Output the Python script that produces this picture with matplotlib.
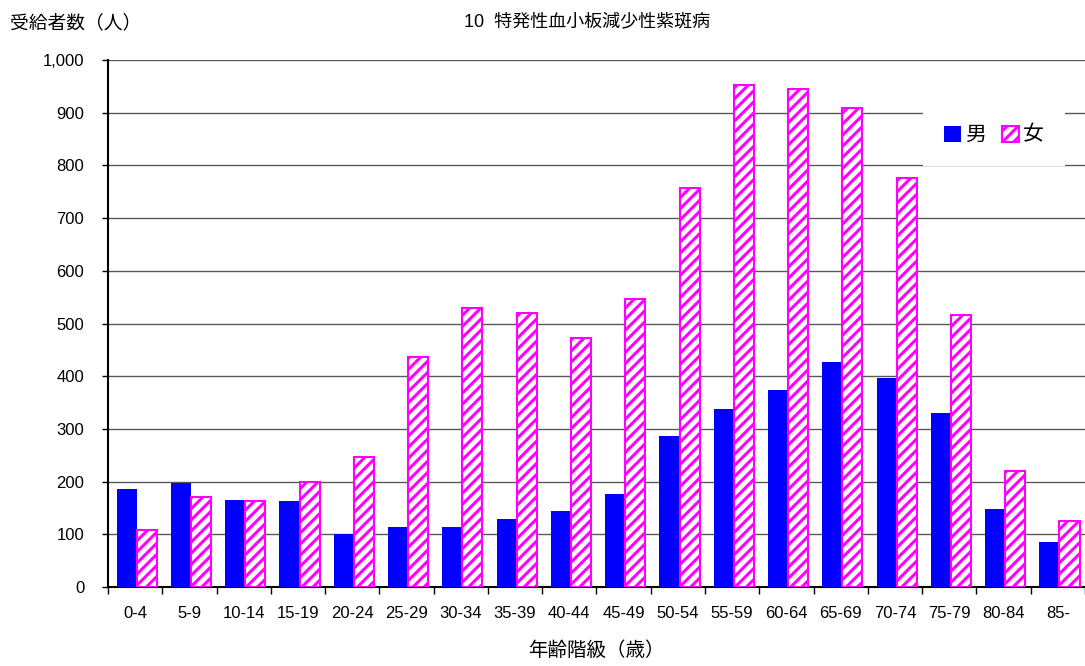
import numpy as np
import matplotlib
matplotlib.use('Agg')
import matplotlib.pyplot as plt
from matplotlib.ticker import FuncFormatter

plt.rcParams['font.family'] = ['Liberation Sans', 'Noto Sans CJK JP', 'DejaVu Sans']
plt.rcParams['hatch.linewidth'] = 2.2

# data
age_groups = ['0-4', '5-9', '10-14', '15-19', '20-24', '25-29', '30-34', '35-39', '40-44',
              '45-49', '50-54', '55-59', '60-64', '65-69', '70-74', '75-79', '80-84', '85-']
male = [186, 197, 166, 164, 100, 113, 114, 130, 145, 177, 287, 338, 373, 427, 396, 331, 148, 86]
female = [108, 171, 163, 199, 246, 436, 529, 519, 472, 546, 757, 952, 945, 909, 776, 517, 220, 125]

fig = plt.figure(figsize=(10.85, 6.66), dpi=100)
ax = fig.add_axes([0.0995, 0.1186, 0.9005, 0.7913])

x = np.arange(len(age_groups))
w = 0.37
ax.bar(x - w / 2 + 0.03, male, w, color='#0000FF', label='男', zorder=3)
ax.bar(x + w / 2 + 0.03, female, w, facecolor='white', edgecolor='#FF00FF',
       hatch='///', linewidth=1.5, label='女', zorder=3)

ax.set_xlim(-0.5, len(age_groups) - 0.5)
ax.set_ylim(0, 1000)
ax.set_yticks(np.arange(0, 1001, 100))
ax.yaxis.set_major_formatter(FuncFormatter(lambda v, p: f'{int(v):,}'))
ax.grid(axis='y', color='0.35', linewidth=1.0, zorder=0)

# ticks between categories, labels at centres
ax.set_xticks(x)
ax.set_xticklabels(age_groups)
ax.set_xticks(np.arange(-0.5, len(age_groups), 1), minor=True)
ax.tick_params(axis='x', which='major', length=0, pad=14, labelsize=12)
ax.tick_params(axis='x', which='minor', length=5, width=1, direction='out')
ax.tick_params(axis='y', length=4, width=1, pad=13, labelsize=12)

for s in ['top', 'right']:
    ax.spines[s].set_visible(False)
ax.spines['left'].set_linewidth(1.5)
ax.spines['bottom'].set_linewidth(1.5)

ax.set_title('10  特発性血小板減少性紫斑病', fontsize=13, pad=24, x=0.49)
ax.set_xlabel('年齢階級（歳）', fontsize=14, labelpad=14)
fig.text(0.009, 0.965, '受給者数（人）', fontsize=13.5, ha='left', va='center')

leg = ax.legend(loc='upper right', bbox_to_anchor=(0.99, 0.935), ncol=2, frameon=True,
                fontsize=15, handlelength=0.8, handleheight=0.8, handletextpad=0.2,
                columnspacing=0.8, borderpad=1.0, fancybox=False)
leg.get_frame().set_edgecolor('none')
leg.get_frame().set_facecolor('white')
leg.get_frame().set_alpha(1)

fig.savefig('out.png', dpi=100)
